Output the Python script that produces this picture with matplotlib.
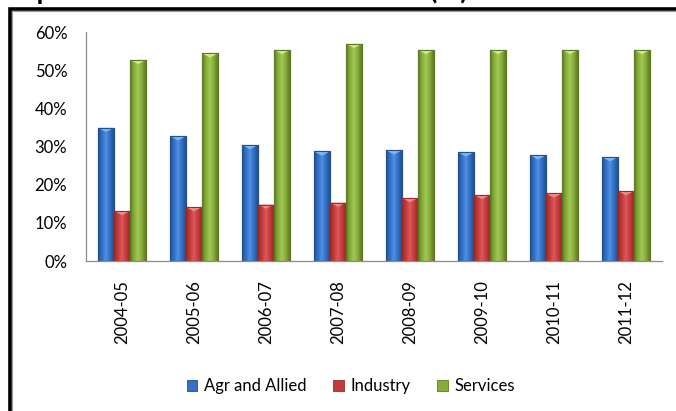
import matplotlib
matplotlib.use('Agg')
import matplotlib.pyplot as plt
import numpy as np
from matplotlib.colors import LinearSegmentedColormap
from matplotlib.patches import Polygon, Rectangle, Patch
from matplotlib.ticker import FuncFormatter

# share of each sector in GSDP, percent
years = ['2004-05', '2005-06', '2006-07', '2007-08', '2008-09', '2009-10', '2010-11', '2011-12']
agr_allied = [34.9, 32.7, 30.4, 28.7, 29.0, 28.5, 27.7, 27.2]
industry = [13.1, 14.1, 14.8, 15.3, 16.5, 17.3, 17.7, 18.3]
services = [52.7, 54.4, 55.3, 56.9, 55.3, 55.3, 55.3, 55.3]

series_names = ['Agr and Allied', 'Industry', 'Services']

# (edge, body, highlight, bevel top)
BLUE = ('#24508f', '#3470c4', '#4f8fe0', '#7ab8f5')
RED = ('#9c2b2b', '#c53b3b', '#de5a5a', '#f08a8a')
GREEN = ('#5f7a26', '#86ad3a', '#a3c955', '#d2ec7a')

FONT = 'Lato'
plt.rcParams['font.family'] = [FONT, 'DejaVu Sans']


def draw_bevel_bars(ax, xpos, values, width, colours):

    edge, body, light, top = colours
    cmap = LinearSegmentedColormap.from_list('bar', [edge, body, light, body, edge])
    grad = np.linspace(0, 1, 48)[None, :]

    bars = ax.bar(xpos, values, width, color=body, edgecolor=edge, linewidth=0.8, zorder=2)

    for patch in bars.patches:
        x0 = patch.get_x()
        w = patch.get_width()
        h = patch.get_height()

        # soft shadow to the right of each bar
        ax.add_patch(Rectangle((x0 + w, 0), w * 0.08, h * 0.99, color='#000000', alpha=0.08, lw=0, zorder=1))

        im = ax.imshow(grad, extent=(x0, x0 + w, 0, h), aspect='auto', cmap=cmap, zorder=2.5, interpolation='bicubic')
        im.set_clip_path(patch)

        # lighter bevel on the top face
        ax.add_patch(Polygon([(x0, h), (x0 + w, h), (x0 + w / 2, h - 1.1)], closed=True,
                             facecolor=top, edgecolor='none', zorder=3))

    ax.bar(xpos, values, width, fill=False, edgecolor=edge, linewidth=0.8, zorder=3.5)
    return bars


fig = plt.figure(figsize=(6.76, 4.11), dpi=100)
fig.patch.set_facecolor('white')

ax = fig.add_axes([86 / 676, 1 - 261 / 411, 576 / 676, 229 / 411])

x = np.arange(len(years))
bar_w = 0.222

draw_bevel_bars(ax, x - bar_w, agr_allied, bar_w, BLUE)
draw_bevel_bars(ax, x, industry, bar_w, RED)
draw_bevel_bars(ax, x + bar_w, services, bar_w, GREEN)

ax.set_xlim(-0.5, len(years) - 0.5)
ax.set_ylim(0, 60)
ax.set_yticks(np.arange(0, 61, 10))
ax.yaxis.set_major_formatter(FuncFormatter(lambda v, p: '%d%%' % v))
ax.set_xticks(x)
ax.set_xticklabels(years, rotation=90)

ax.tick_params(axis='both', length=0, labelsize=12, colors='#000000')
ax.tick_params(axis='y', pad=13.5)
ax.tick_params(axis='x', pad=13.5)

for side in ('top', 'right'):
    ax.spines[side].set_visible(False)
for side in ('left', 'bottom'):
    ax.spines[side].set_color('#8c8c8c')
    ax.spines[side].set_linewidth(0.9)

# legend along the bottom
handles = [Patch(facecolor=c[1], edgecolor=c[0], linewidth=0.6) for c in (BLUE, RED, GREEN)]
fig.legend(handles, series_names, loc='center', bbox_to_anchor=(351 / 676, 1 - 386 / 411), ncol=3,
           frameon=False, fontsize=12, handlelength=0.65, handleheight=0.65, handletextpad=0.4,
           columnspacing=1.6)

# chart frame, only the top and left edges fall inside the image
fig.add_artist(Rectangle((9.5 / 676, -0.2), 1.2, 1.2 - 8.5 / 411, transform=fig.transFigure,
                         fill=False, edgecolor='black', linewidth=2.6, zorder=5))
fig.add_artist(Rectangle((12 / 676, -0.2), 1.2, 1.2 - 11 / 411, transform=fig.transFigure,
                         fill=False, edgecolor='#9a9a9a', linewidth=0.8, zorder=5))

# heading sits above the chart frame
fig.text(468 / 676, 1 + 1 / 411, 'Composition of the sectors in GSDP (%)', ha='right', va='baseline',
         fontsize=20, fontweight='bold', color='black')

fig.savefig('out.png', dpi=100)
